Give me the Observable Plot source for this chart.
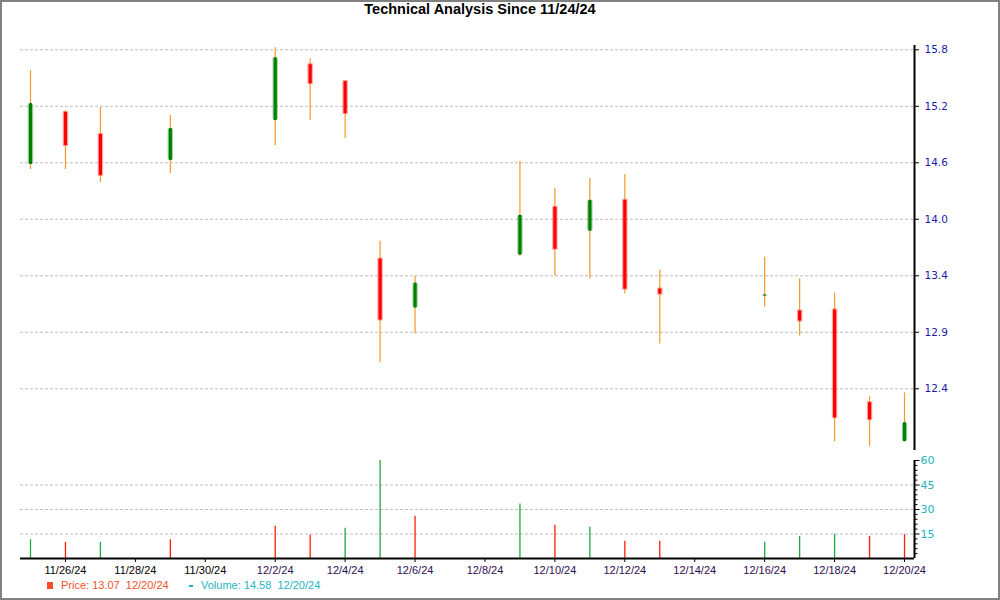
<!DOCTYPE html>
<html>
<head>
<meta charset="utf-8">
<script src="https://cdn.jsdelivr.net/npm/d3@7"></script>
<script src="https://cdn.jsdelivr.net/npm/@observablehq/plot@0.6"></script>
<style>
  html, body { margin: 0; padding: 0; background: #fff; }
  #chart { position: relative; width: 1000px; height: 600px; overflow: hidden; background: #fff; }
  #border { position: absolute; left: 0; top: 0; width: 1000px; height: 600px; box-sizing: border-box; border: 2px solid #808080; pointer-events: none; }
  #title { position: absolute; left: 0; top: 1px; width: 960px; text-align: center; font-family: "Liberation Sans", Arial, sans-serif; font-weight: bold; font-size: 14.5px; color: #000; }
  .abs { position: absolute; left: 0; }
  #legend { position: absolute; left: 0; top: 579px; font-family: "Liberation Sans", Arial, sans-serif; font-size: 11px; white-space: pre; }
</style>
</head>
<body>
<div id="chart">
  <div id="title">Technical Analysis Since 11/24/24</div>
  <div id="volume" class="abs" style="top:450px"></div>
  <div id="price" class="abs" style="top:0px"></div>
  <div id="legend"></div>
  <div id="border"></div>
</div>
<script>
// ---- Data ----
const dates  = ["11/25/24","11/26/24","11/27/24","11/29/24","12/2/24","12/3/24","12/4/24","12/5/24","12/6/24","12/9/24","12/10/24","12/11/24","12/12/24","12/13/24","12/16/24","12/17/24","12/18/24","12/19/24","12/20/24"];
const open   = [14.65, 15.17, 14.95, 14.69, 15.09, 15.65, 15.48, 13.70, 13.21, 13.74, 14.22, 13.98, 14.29, 13.40, 13.33, 13.18, 13.19, 12.26, 11.87];
const high   = [15.59, 15.19, 15.22, 15.14, 15.82, 15.71, 15.49, 13.88, 13.53, 14.68, 14.41, 14.51, 14.55, 13.59, 13.72, 13.50, 13.36, 12.32, 12.36];
const low    = [14.60, 14.60, 14.47, 14.56, 14.84, 15.09, 14.91, 12.66, 12.95, 13.73, 13.53, 13.50, 13.35, 12.85, 13.22, 12.93, 11.87, 11.82, 11.87];
const close  = [15.26, 14.84, 14.54, 15.01, 15.72, 15.46, 15.16, 13.09, 13.46, 14.14, 13.80, 14.29, 13.40, 13.35, 13.34, 13.08, 12.11, 12.09, 12.06];
const volume = [11.5, 9.9, 9.9, 11.5, 19.8, 14.2, 18.5, 60.0, 25.9, 33.3, 20.4, 19.1, 10.5, 10.5, 9.9, 13.6, 14.8, 13.6, 14.58];
const volumeDir = ["up","down","up","down","down","down","up","up","down","up","down","up","down","down","up","up","up","down","down"];

const xTickLabels = ["11/26/24","11/28/24","11/30/24","12/2/24","12/4/24","12/6/24","12/8/24","12/10/24","12/12/24","12/14/24","12/16/24","12/18/24","12/20/24"];
const priceTickValues = [15.8, 15.2333, 14.6667, 14.1, 13.5333, 12.9667, 12.4];
const priceTickLabels = ["15.8","15.2","14.6","14.0","13.4","12.9","12.4"];
const volumeTickValues = [15, 30, 45, 60];
const volumeTickLabels = ["15","30","45","60"];
const legendPrice = "Price: 13.07  12/20/24";
const legendVolume = "Volume: 14.58  12/20/24";

// ---- Build tables ----
const parseDate = s => { const [m, d, y] = s.split("/").map(Number); return new Date(Date.UTC(2000 + y, m - 1, d)); };
const candles = dates.map((s, i) => ({date: parseDate(s), open: open[i], high: high[i], low: low[i], close: close[i],
  volume: volume[i], vdir: volumeDir[i]}));
const DAY = 864e5;
const pad = DAY * 10 / 35;
const xDomain = [new Date(+candles[0].date - pad), new Date(+candles[candles.length - 1].date + pad)];
const xTicks = xTickLabels.map(parseDate);
const labelOf = new Map(xTickLabels.map(s => [+parseDate(s), s]));
const xTicksNov = xTicks.filter(d => d.getUTCMonth() === 10);
const xTicksDec = xTicks.filter(d => d.getUTCMonth() === 11);
const priceLabel = new Map(priceTickValues.map((v, i) => [v, priceTickLabels[i]]));
const volLabel = new Map(volumeTickValues.map((v, i) => [v, volumeTickLabels[i]]));

const UP = "#008000", DOWN = "#ff0000", WICK = "#f39a28";
const GRID = "#bdbdbd";
const bodyColor = d => d.close >= d.open ? UP : DOWN;

// ---- Price panel ----
const price = Plot.plot({
  width: 1000, height: 452,
  marginLeft: 20, marginRight: 86, marginTop: 45, marginBottom: 2,
  style: {background: "transparent", fontFamily: "DejaVu Sans, Verdana, sans-serif", fontSize: "10.5px", overflow: "visible"},
  x: {type: "utc", domain: xDomain, axis: null},
  y: {domain: [11.781, 15.843], axis: null},
  marks: [
    Plot.gridY(priceTickValues, {stroke: GRID, strokeOpacity: 1, strokeDasharray: "3,2"}),
    Plot.ruleX(candles, {x: "date", y1: "low", y2: "high", stroke: WICK, strokeWidth: 1.2}),
    Plot.ruleX(candles, {x: "date", y1: "open", y2: "close", stroke: bodyColor, strokeWidth: 5.5, strokeOpacity: 0.35, insetTop: -1, insetBottom: -1}),
    Plot.ruleX(candles, {x: "date", y1: "open", y2: "close", stroke: bodyColor, strokeWidth: 3.2}),
    Plot.ruleX([xDomain[1]], {stroke: "#000", strokeWidth: 2}),
    Plot.axisY({anchor: "right", label: null, ticks: priceTickValues, tickFormat: v => priceLabel.get(v), tickSize: 4, tickPadding: 6,
      stroke: "#000", fill: "#1c1caa", fontSize: 10.5})
  ]
});
document.getElementById("price").appendChild(price);

// ---- Volume panel ----
const minorTicks = d3.range(0, 61, 3).filter(v => v % 15 !== 0);
const volume_ = Plot.plot({
  width: 1000, height: 132,
  marginLeft: 20, marginRight: 86, marginTop: 10, marginBottom: 24,
  style: {background: "transparent", fontFamily: "Liberation Sans, Arial, sans-serif", fontSize: "11px", overflow: "visible"},
  x: {type: "utc", domain: xDomain, axis: null},
  y: {domain: [0, 60], axis: null},
  marks: [
    Plot.gridY([15, 30, 45], {stroke: GRID, strokeOpacity: 1, strokeDasharray: "3,2"}),
    Plot.ruleX(candles, {x: "date", y1: 0, y2: "volume", stroke: d => d.vdir === "up" ? "#1fa83c" : "#ff2000", strokeWidth: 1.3}),
    Plot.ruleY([0], {stroke: "#000", strokeWidth: 2}),
    Plot.ruleX([xDomain[1]], {stroke: "#000", strokeWidth: 2}),
    Plot.axisY({anchor: "right", label: null, ticks: minorTicks, tickSize: 2.5, tickFormat: () => "", stroke: "#000"}),
    Plot.axisY({anchor: "right", label: null, ticks: volumeTickValues, tickFormat: v => volLabel.get(v), tickSize: 4.5, tickPadding: 1.5,
      stroke: "#000", fill: "#22b2c2", fontSize: 11, fontFamily: "DejaVu Sans, Verdana, sans-serif"}),
    Plot.axisX({anchor: "bottom", label: null, ticks: xTicksNov, tickFormat: d => labelOf.get(+d), tickSize: 4, tickPadding: 4,
      stroke: "#000", fill: "#000", fontSize: 11}),
    Plot.axisX({anchor: "bottom", label: null, ticks: xTicksDec, tickFormat: d => labelOf.get(+d), tickSize: 4, tickPadding: 4,
      stroke: "#000", fill: "#2e0c52", fontSize: 11})
  ]
});
document.getElementById("volume").appendChild(volume_);

// ---- Legend ----
const legend = document.getElementById("legend");
legend.innerHTML =
  '<span style="position:absolute;left:47px;top:3px;width:6px;height:7px;background:#f4502a;"></span>' +
  '<span style="position:absolute;left:61px;top:0px;color:#f4512c;">' + legendPrice + '</span>' +
  '<span style="position:absolute;left:189px;top:6px;width:4px;height:1.5px;background:#1fb5c0;"></span>' +
  '<span style="position:absolute;left:201px;top:0px;color:#1fb5c0;">' + legendVolume + '</span>';
</script>
</body>
</html>
